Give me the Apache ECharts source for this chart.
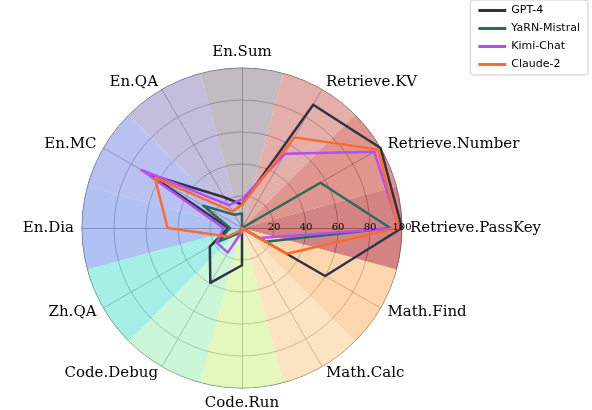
<!DOCTYPE html>
<html>
<head>
<meta charset="UTF-8" />
<script src="https://cdn.jsdelivr.net/npm/echarts@6/dist/echarts.min.js"></script>
<style>
  html, body, #chart { width: 100%; height: 100%; margin: 0; padding: 0; overflow: hidden; background: #fff; }
</style>
</head>
<body>
<div id="chart"></div>
<script>
const categories = ["Retrieve.PassKey", "Retrieve.Number", "Retrieve.KV", "En.Sum", "En.QA", "En.MC",
  "En.Dia", "Zh.QA", "Code.Debug", "Code.Run", "Math.Calc", "Math.Find"];
const gpt4 = [100, 100, 89, 14.7, 22.2, 67.3, 8.5, 23.2, 39.6, 23.3, 0.01, 60.0];
const yarn = [92.7, 56.6, 0, 9.1, 9.6, 28.0, 7.5, 17.0, 3.6, 0, 0, 17.1];
const kimi = [98.1, 95.4, 53.6, 17.9, 16.5, 72.5, 11.5, 18.3, 17.8, 2.3, 0, 12.6];
const claude = [97.8, 98.1, 65.4, 14.5, 12.0, 62.9, 46.5, 10.5, 2.3, 2.5, 0, 32.3];
const wedgeColors = ["#c0504d", "#d2695f", "#d98c86", "#a8a0a8", "#a9a3cf", "#9aa6e8",
  "#8fa6f0", "#7fe8dc", "#b6f2c8", "#d8f5a0", "#fbd8a8", "#fcc48a"];
const radiusTicks = [20, 40, 60, 80, 100];

const center = ["242", "228"];
const radius = 160;
const serif = "DejaVu Serif";

const chart = echarts.init(document.getElementById("chart"));
chart.setOption({
  animation: false,
  legend: {
    right: 4, top: 0, orient: "vertical", itemWidth: 28, itemHeight: 3,
    itemGap: 7, padding: [5, 8],
    borderColor: "#ccc", borderWidth: 1, borderRadius: 3,
    textStyle: { fontFamily: "DejaVu Sans", fontSize: 11, color: "#000" },
    data: ["GPT-4", "YaRN-Mistral", "Kimi-Chat", "Claude-2"]
  },
  polar: [
    { center: center, radius: radius },
    { center: center, radius: radius }
  ],
  angleAxis: [
    { polarIndex: 0, type: "category", data: categories, startAngle: -15, clockwise: false,
      axisLine: { show: false }, axisTick: { show: false }, axisLabel: { show: false }, splitLine: { show: false } },
    { polarIndex: 1, type: "value", startAngle: 0, show: false }
  ],
  radiusAxis: [
    { polarIndex: 0, min: 0, max: 100, show: false },
    { polarIndex: 1, min: 0, max: 100, interval: 20, z: 10,
      axisLine: { show: false }, axisTick: { show: false }, splitLine: { show: false },
      axisLabel: { fontFamily: serif, fontSize: 10, color: "#000", margin: -4,
        formatter: v => radiusTicks.includes(v) ? String(v) : "" } }
  ],
  radar: {
    center: center, radius: radius, shape: "circle", startAngle: 0, splitNumber: 5,
    indicator: categories.map(n => ({ name: n, max: 100, min: 0 })),
    axisName: { fontFamily: serif, fontSize: 15, color: "#000" },
    nameGap: 8,
    splitArea: { show: false },
    splitLine: { lineStyle: { color: "#444", width: 0.8 } },
    axisLine: { lineStyle: { color: "#444", width: 0.8 } },
    axisLabel: { show: false }
  },
  series: [
    { type: "bar", coordinateSystem: "polar", polarIndex: 0, barCategoryGap: 0, silent: true, z: 0,
      data: wedgeColors.map(c => ({ value: 100, itemStyle: { color: c, opacity: 0.7 } })) },
    { type: "radar", z: 5, symbol: "none",
      data: [
        { name: "GPT-4", value: gpt4, lineStyle: { color: "#2e3445", width: 2.5 }, itemStyle: { color: "#2e3445" } },
        { name: "YaRN-Mistral", value: yarn, lineStyle: { color: "#2a6b5e", width: 2.5 }, itemStyle: { color: "#2a6b5e" } },
        { name: "Kimi-Chat", value: kimi, lineStyle: { color: "#b84cf5", width: 2.5 }, itemStyle: { color: "#b84cf5" } },
        { name: "Claude-2", value: claude, lineStyle: { color: "#ff6b2b", width: 2.5 }, itemStyle: { color: "#ff6b2b" } }
      ] }
  ]
});
</script>
</body>
</html>
